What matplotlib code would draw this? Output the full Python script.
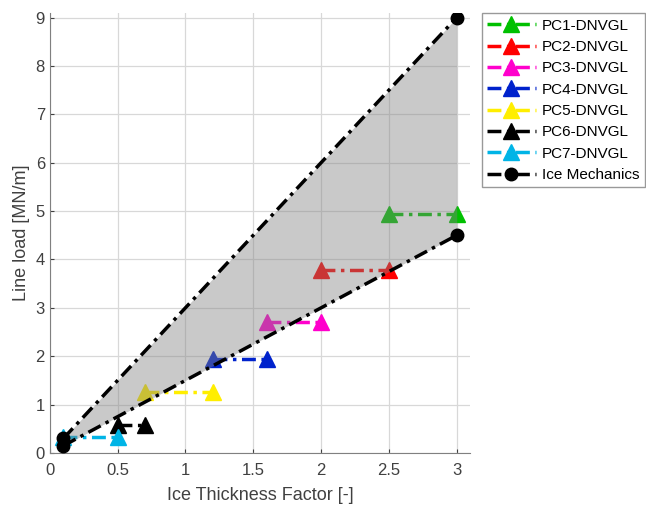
import matplotlib.pyplot as plt
import numpy as np

plt.rcParams['font.family'] = ['Liberation Sans', 'DejaVu Sans']

labels = ['PC1-DNVGL', 'PC2-DNVGL', 'PC3-DNVGL', 'PC4-DNVGL',
          'PC5-DNVGL', 'PC6-DNVGL', 'PC7-DNVGL']
colors = ['#00c000', '#ff0000', '#ff00cc', '#0022cc', '#ffee00', '#000000', '#00b4e6']
x_start = [2.5, 2.0, 1.6, 1.2, 0.7, 0.5, 0.1]
x_end = [3.0, 2.5, 2.0, 1.6, 1.2, 0.7, 0.5]
loads = [4.95, 3.78, 2.70, 1.94, 1.26, 0.58, 0.33]

# ice mechanics envelope
ice_x = [0.1, 3.0]
ice_upper = [0.30, 9.0]
ice_lower = [0.15, 4.5]

fig = plt.figure(figsize=(6.46, 5.09), dpi=100)
ax = fig.add_axes([0.077, 0.11, 0.651, 0.865])

dashdot = (0, (4, 1.6, 1, 1.6))
for lab, c, x0, x1, y in zip(labels, colors, x_start, x_end, loads):
    ax.plot([x0, x1], [y, y], linestyle=dashdot, color=c, lw=2.5,
            marker='^', ms=12, label=lab, zorder=2)

ax.fill_between(ice_x, ice_lower, ice_upper, color='#808080', alpha=0.42, lw=0, zorder=2.5)
ax.plot(ice_x, ice_upper, linestyle=dashdot, color='k', lw=2.5,
        marker='o', ms=9, label='Ice Mechanics', zorder=3)
ax.plot(ice_x, ice_lower, linestyle=dashdot, color='k', lw=2.5,
        marker='o', ms=9, zorder=3)

ax.set_xlim(0, 3.1)
ax.set_ylim(0, 9.1)
ax.set_xticks(np.arange(0, 3.01, 0.5))
ax.set_xticklabels(['0', '0.5', '1', '1.5', '2', '2.5', '3'])
ax.set_yticks(range(0, 10))
ax.grid(True, color='#d8d8d8', lw=0.9)
ax.set_axisbelow(True)
for s in ['top', 'right']:
    ax.spines[s].set_visible(False)
for s in ['left', 'bottom']:
    ax.spines[s].set_color('#808080')
ax.tick_params(colors='#404040', labelsize=12, direction='in', length=3)
ax.tick_params(axis='x', pad=7)
ax.set_xlabel('Ice Thickness Factor [-]', fontsize=13, color='#404040', labelpad=7)
ax.set_ylabel('Line load [MN/m]', fontsize=13, color='#404040')

leg = ax.legend(loc='upper right', bbox_to_anchor=(0.998, 0.974), bbox_transform=fig.transFigure,
                fontsize=11, frameon=True, fancybox=False, edgecolor='#808080',
                handlelength=3.2, borderpad=0.35, labelspacing=0.48, handletextpad=0.4,
                borderaxespad=0)
leg.get_frame().set_linewidth(1.0)

fig.savefig('out.png', dpi=100)
